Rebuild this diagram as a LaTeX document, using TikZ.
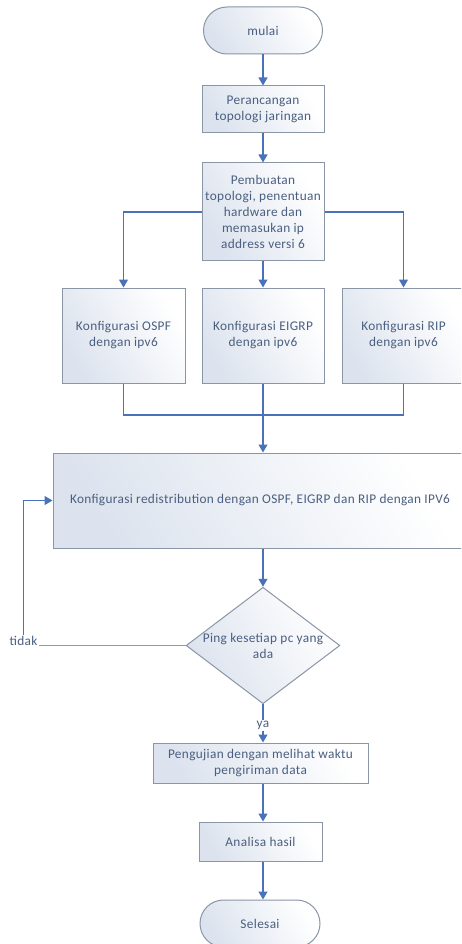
\documentclass[tikz,border=0pt]{standalone}
\usepackage{fontspec}
\setmainfont{Carlito}[LetterSpace=2.5]
\usetikzlibrary{arrows.meta,shapes.geometric,shapes.misc}
\definecolor{linecol}{HTML}{4A72B8}
\definecolor{bordercol}{HTML}{8A96A6}
\definecolor{txtcol}{HTML}{4A5F80}
\definecolor{fillcol}{HTML}{DCE3EE}
\definecolor{nolinecol}{HTML}{8C94C8}
\tikzset{
  base/.style={draw=bordercol, line width=1pt, text=txtcol, align=center,
    font=\fontsize{13.3}{16}\selectfont, inner sep=2pt,
    shading=axis, left color=fillcol, right color=white, shading angle=120},
  procbox/.style={base, rectangle},
  termbox/.style={base, rounded rectangle},
  decbox/.style={base, diamond, aspect=1.32},
  flow/.style={draw=linecol, line width=1.1pt, -{Triangle[width=9pt,length=8pt]}},
  plain/.style={draw=linecol, line width=1.1pt},
  lbl/.style={text=txtcol, font=\fontsize{13.3}{16}\selectfont, inner sep=1pt},
}
\begin{document}
\begin{tikzpicture}[x=1pt,y=-1pt]
\useasboundingbox[clip] (0,0) rectangle (461,944);
\fill[white] (0,0) rectangle (461,944);

\node[termbox, minimum width=123pt, minimum height=47pt] (mulai) at (263,30.5) {mulai};
\node[procbox, minimum width=122pt, minimum height=47pt] (p1) at (263,109.5) {Perancangan\\topologi jaringan};
\node[procbox, minimum width=122pt, minimum height=97pt] (p2) at (263,211.5) {Pembuatan\\topologi, penentuan\\hardware dan\\memasukan ip\\address versi 6};
\node[procbox, minimum width=123pt, minimum height=95pt] (ospf) at (123.5,335.5) {Konfigurasi OSPF\\dengan ipv6};
\node[procbox, minimum width=122pt, minimum height=95pt] (eigrp) at (263,335.5) {Konfigurasi EIGRP\\dengan ipv6};
\node[procbox, minimum width=123pt, minimum height=95pt] (rip) at (403.5,335.5) {Konfigurasi RIP\\dengan ipv6};
\coordinate (j) at (263,415);
\node[procbox, minimum width=414pt, minimum height=95pt] (big) at (260,500.5) {Konfigurasi redistribution dengan OSPF, EIGRP dan RIP dengan IPV6};
\node[decbox, minimum width=152pt, minimum height=115pt, inner sep=0pt] (dia) at (263,645.5) {Ping kesetiap pc yang\\ada};
\node[lbl] (tidak) at (23.5,641) {tidak};
\node[lbl] (ya) at (263,725) {ya};
\node[procbox, minimum width=215pt, minimum height=40pt] (peng) at (260.5,763) {Pengujian dengan melihat waktu\\pengiriman data};
\node[procbox, minimum width=123pt, minimum height=39pt] (anal) at (260.5,841.5) {Analisa hasil};
\node[termbox, minimum width=124pt, minimum height=47pt] (sel) at (260,923.5) {Selesai};

\draw[flow] (mulai.south -| 263,0) -- (p1.north -| 263,0);
\draw[flow] (p1.south -| 263,0) -- (p2.north -| 263,0);
\draw[flow] (p2.west |- 0,212) -| (ospf.north);
\draw[flow] (p2.east |- 0,212) -| (rip.north);
\draw[flow] (p2.south) -- (eigrp.north);
\draw[plain] (ospf.south) |- (j) -| (rip.south);
\draw[plain] (eigrp.south) -- (j);
\draw[flow] (j) -- (big.north -| j);
\draw[flow] (big.south -| j) -- (dia.north);
\draw[draw=nolinecol, line width=1.1pt] (dia.west) -- (dia.west -| tidak.east);
\draw[flow] (tidak.north) -- (tidak.north |- big.west) -- (big.west);
\draw[plain] (dia.south) -- (ya.north);
\draw[flow] (ya.south) -- (peng.north -| ya.south);
\draw[flow] (peng.south -| 263,0) -- (anal.north -| 263,0);
\draw[flow] (anal.south -| 263,0) -- (sel.north -| 263,0);
\end{tikzpicture}
\end{document}
